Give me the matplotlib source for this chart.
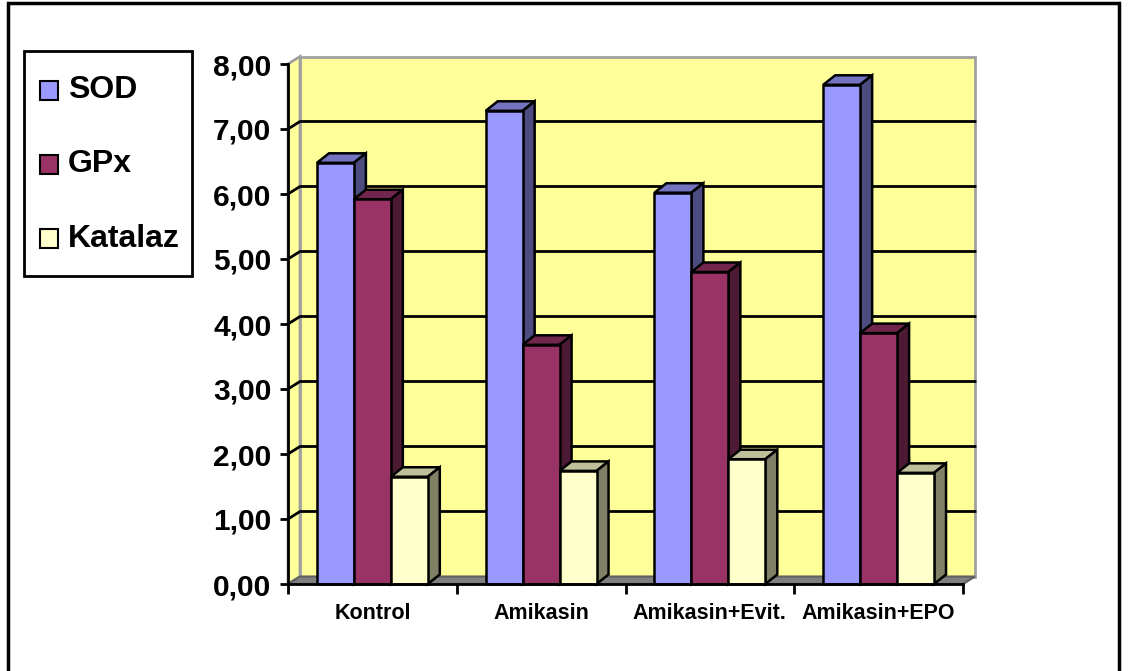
import matplotlib.pyplot as plt
from matplotlib.patches import Polygon, Rectangle
from matplotlib.ticker import FuncFormatter

plt.rcParams['font.family'] = ['Liberation Sans', 'DejaVu Sans']

# veriler
gruplar = ['Kontrol', 'Amikasin', 'Amikasin+Evit.', 'Amikasin+EPO']
seriler = ['SOD', 'GPx', 'Katalaz']
sod = [6.48, 7.28, 6.02, 7.68]
gpx = [5.92, 3.68, 4.80, 3.86]
katalaz = [1.65, 1.74, 1.92, 1.71]

on_renk = ['#9999FF', '#993366', '#FFFFCC']
ust_renk = ['#7373BF', '#73264D', '#BFBF99']
yan_renk = ['#4C4C80', '#4D1A33', '#808066']

fig = plt.figure(figsize=(11.34, 6.71), dpi=100)
W, H = 1134, 671
ax = fig.add_axes([288 / W, 1 - 584 / H, 675 / W, 520 / H])
ax.set_xlim(0, 4)
ax.set_ylim(0, 8)

# 3B derinlik (veri biriminde)
px_x = 4 / 675
px_y = 8 / 520
wdx, wdy = 12 * px_x, 7.5 * px_y
bdx, bdy = 12 * px_x, 9.5 * px_y

sari = '#FFFF99'
gri = '#A0A0A0'

# arka duvar ve yan duvar
ax.add_patch(Polygon([(wdx, wdy), (4 + wdx, wdy), (4 + wdx, 8 + wdy), (wdx, 8 + wdy)],
                     closed=True, facecolor=sari, edgecolor=gri, lw=2, zorder=0, clip_on=False))
ax.add_patch(Polygon([(0, 0), (wdx, wdy), (wdx, 8 + wdy), (0, 8)],
                     closed=True, facecolor=sari, edgecolor=gri, lw=2, zorder=0, clip_on=False))
# zemin
ax.add_patch(Polygon([(0, 0), (4, 0), (4 + wdx, wdy), (wdx, wdy)],
                     closed=True, facecolor='#808080', edgecolor='#606060', lw=1.5, zorder=1, clip_on=False))

# izgara cizgileri
for v in range(1, 8):
    ax.plot([0, wdx, 4 + wdx], [v, v + wdy, v + wdy], color='black', lw=2, zorder=1, clip_on=False)

# cubuklar
n = len(seriler)
bw = 37 / 169
bas = (1 - n * bw) / 2
for i, degerler in enumerate([sod, gpx, katalaz]):
    for j, v in enumerate(degerler):
        x0 = j + bas + i * bw
        x1 = x0 + bw
        z = 2 + i
        ax.add_patch(Polygon([(x0, v), (x1, v), (x1 + bdx, v + bdy), (x0 + bdx, v + bdy)],
                             closed=True, facecolor=ust_renk[i], edgecolor='black', lw=1.8, zorder=z, clip_on=False))
        ax.add_patch(Polygon([(x1, 0), (x1 + bdx, bdy), (x1 + bdx, v + bdy), (x1, v)],
                             closed=True, facecolor=yan_renk[i], edgecolor='black', lw=1.8, zorder=z, clip_on=False))
        ax.add_patch(Rectangle((x0, 0), bw, v, facecolor=on_renk[i], edgecolor='black',
                               lw=1.8, zorder=z + 0.5, clip_on=False))

# eksenler
for s in ['top', 'right']:
    ax.spines[s].set_visible(False)
ax.spines['left'].set_linewidth(2)
ax.spines['bottom'].set_linewidth(2)
ax.spines['left'].set_zorder(10)
ax.spines['bottom'].set_zorder(10)
ax.patch.set_visible(False)

ax.set_yticks(range(0, 9))
ax.yaxis.set_major_formatter(FuncFormatter(lambda v, p: f'{v:.2f}'.replace('.', ',')))
ax.tick_params(axis='y', length=6, width=2, labelsize=21.5, pad=6)
ax.set_xticks(range(0, 5))
ax.set_xticklabels([])
ax.set_xticks([j + 0.5 for j in range(4)], minor=True)
ax.set_xticklabels(gruplar, minor=True, fontsize=15.5, fontweight='bold')
ax.tick_params(axis='x', which='major', length=7, width=2)
ax.tick_params(axis='x', which='minor', length=0, pad=14)
for t in ax.get_yticklabels():
    t.set_fontweight('bold')

# lejant (elle cizildi)
fig.patches.append(Rectangle((24 / W, 1 - 276 / H), 168 / W, 225 / H, transform=fig.transFigure,
                             facecolor='white', edgecolor='black', lw=2))
for k, (ad, c) in enumerate(zip(seriler, on_renk)):
    yc = 1 - (90 + k * 74.5) / H
    fig.patches.append(Rectangle((40 / W, yc - 9.5 / H), 18 / W, 19 / H, transform=fig.transFigure,
                                 facecolor=c, edgecolor='black', lw=1.5))
    fig.text(68 / W, yc, ad, fontsize=23, fontweight='bold', va='center', ha='left')

# dis cerceve
fig.patches.append(Rectangle((8 / W, -0.02), (1119 - 8) / W, 1.02 - 3 / H, transform=fig.transFigure,
                             fill=False, edgecolor='black', lw=2.5))

fig.savefig('out.png', dpi=100)
